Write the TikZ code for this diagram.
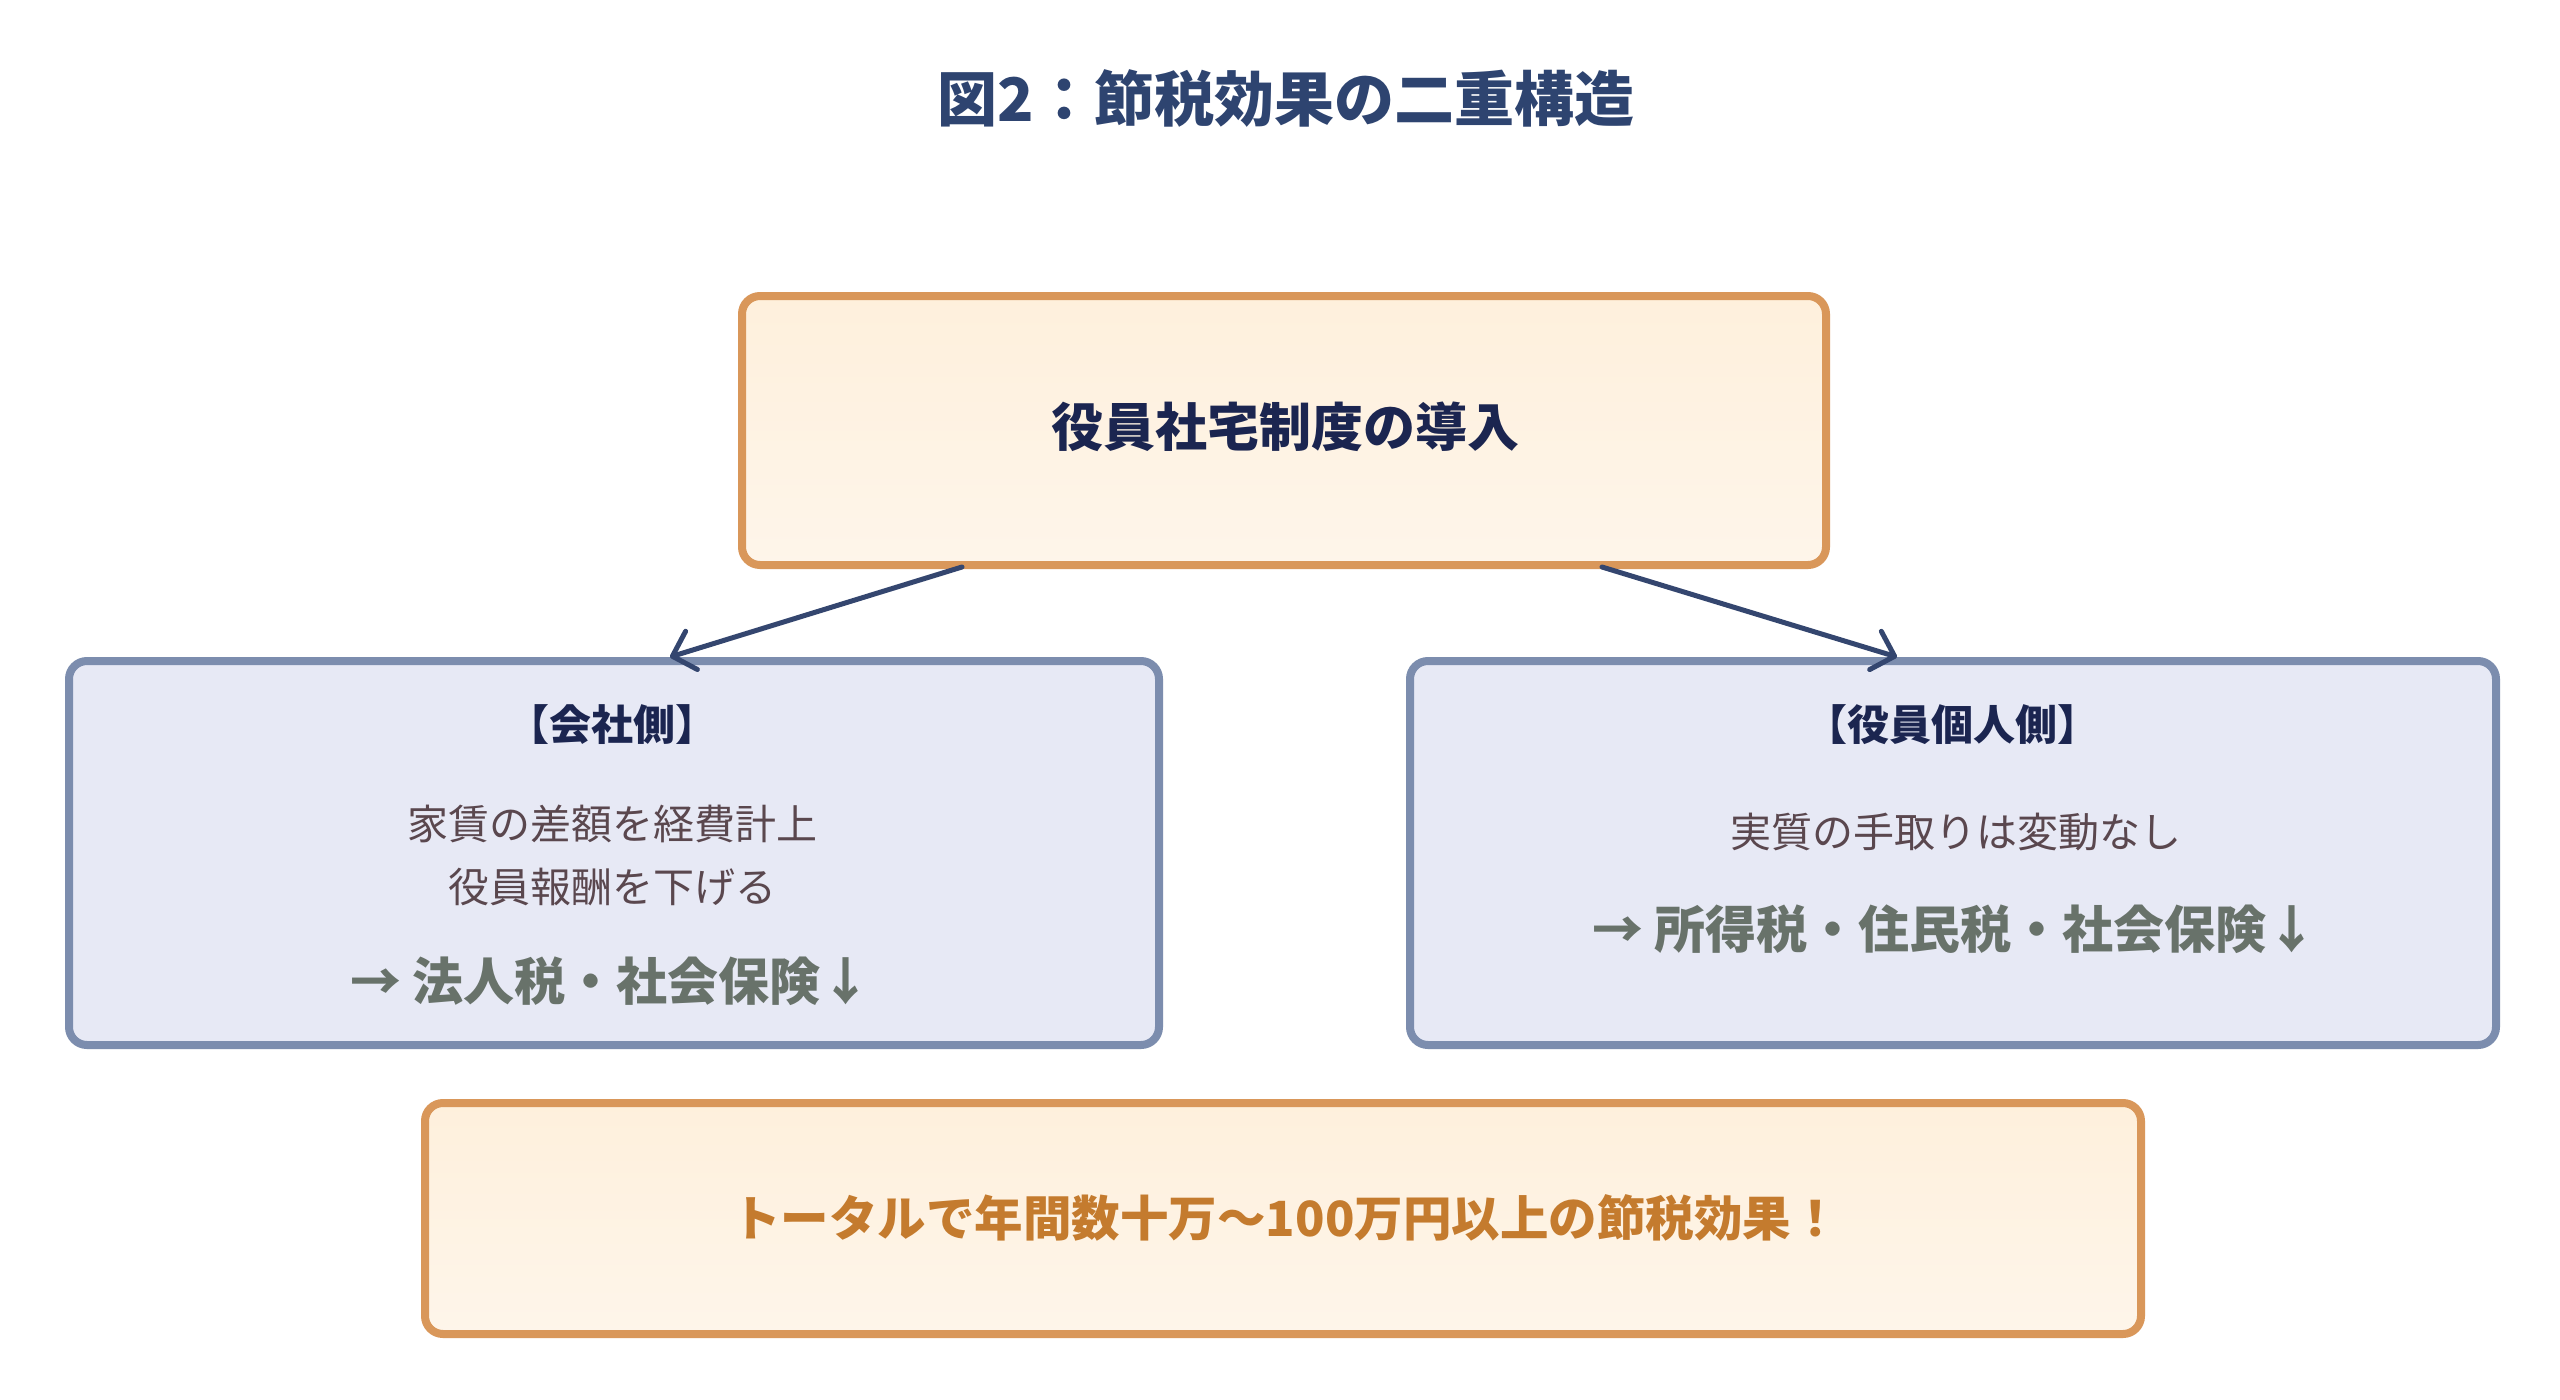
\documentclass[tikz,border=0pt]{standalone}
\usepackage{fontspec}
\newfontfamily\cjk{Noto Sans CJK JP}
\usetikzlibrary{arrows.meta}
\definecolor{titlecol}{HTML}{2E4470}
\definecolor{navytext}{HTML}{1B2550}
\definecolor{orangeborder}{HTML}{D9975A}
\definecolor{orangefill}{HTML}{FEF0DC}
\definecolor{orangefillb}{HTML}{FEF5EA}
\definecolor{blueborder}{HTML}{7C8DAE}
\definecolor{bluefill}{HTML}{E7E9F5}
\definecolor{bodytext}{HTML}{5A474E}
\definecolor{greentext}{HTML}{68726A}
\definecolor{bottomtext}{HTML}{C47B2E}
\definecolor{arrowcol}{HTML}{34466F}
\tikzset{
  orangebox/.style={draw=orangeborder, line width=8pt, rounded corners=18pt, top color=orangefill, bottom color=orangefillb},
  bluebox/.style={draw=blueborder, line width=8pt, rounded corners=18pt, fill=bluefill},
  txt/.style={inner sep=0pt, anchor=center},
  conn/.style={draw=arrowcol, line width=5pt, line cap=round, -{Straight Barb[length=20pt,width=40pt,line width=5pt,round]}},
}
\begin{document}
\begin{tikzpicture}[x=1pt,y=-1pt]
\useasboundingbox[fill=white] (0,0) rectangle (2560,1400);
% title
\node[txt, text=titlecol, font=\cjk\bfseries\fontsize{60}{68}\selectfont] (title) at (1286,98) {図2：節税効果の二重構造};
% boxes
\path[orangebox] (742,296) rectangle (1826,565);
\node[txt] (top) at (1284,430.5) [minimum width=1084pt, minimum height=269pt] {};
\node[txt, text=navytext, font=\cjk\bfseries\fontsize{52}{60}\selectfont] (toptext) at (1285,427) {役員社宅制度の導入};

\path[bluebox] (69,661) rectangle (1159,1045);
\node[txt] (left) at (614,853) [minimum width=1090pt, minimum height=384pt] {};
\node[txt, text=navytext, font=\cjk\bfseries\fontsize{42}{48}\selectfont] (lhead) at (612,725) {【会社側】};
\node[txt, text=bodytext, font=\cjk\fontsize{41}{48}\selectfont] (lb1) at (612,824) {家賃の差額を経費計上};
\node[txt, text=bodytext, font=\cjk\fontsize{41}{48}\selectfont] (lb2) at (612,887) {役員報酬を下げる};
\node[txt, text=greentext, font=\cjk\bfseries\fontsize{51}{58}\selectfont] (lb3) at (611,981) {→ 法人税・社会保険↓};

\path[bluebox] (1410,661) rectangle (2496,1045);
\node[txt] (right) at (1953,853) [minimum width=1086pt, minimum height=384pt] {};
\node[txt, text=navytext, font=\cjk\bfseries\fontsize{42}{48}\selectfont] (rhead) at (1952,725) {【役員個人側】};
\node[txt, text=bodytext, font=\cjk\fontsize{41}{48}\selectfont] (rb1) at (1956,832) {実質の手取りは変動なし};
\node[txt, text=greentext, font=\cjk\bfseries\fontsize{51}{58}\selectfont] (rb2) at (1955,929) {→ 所得税・住民税・社会保険↓};

\path[orangebox] (425,1103) rectangle (2141,1334);
\node[txt] (bottom) at (1283,1218.5) [minimum width=1716pt, minimum height=231pt] {};
\node[txt, text=bottomtext, font=\cjk\bfseries\fontsize{48.5}{56}\selectfont] (btext) at (1286,1218) {トータルで年間数十万～100万円以上の節税効果！};

% connectors
\coordinate (s1) at (962,567);
\coordinate (e1) at (670,657);
\coordinate (s2) at (1602,567);
\coordinate (e2) at (1897,657);
\draw[conn] (s1) -- (e1);
\draw[conn] (s2) -- (e2);
\end{tikzpicture}
\end{document}
